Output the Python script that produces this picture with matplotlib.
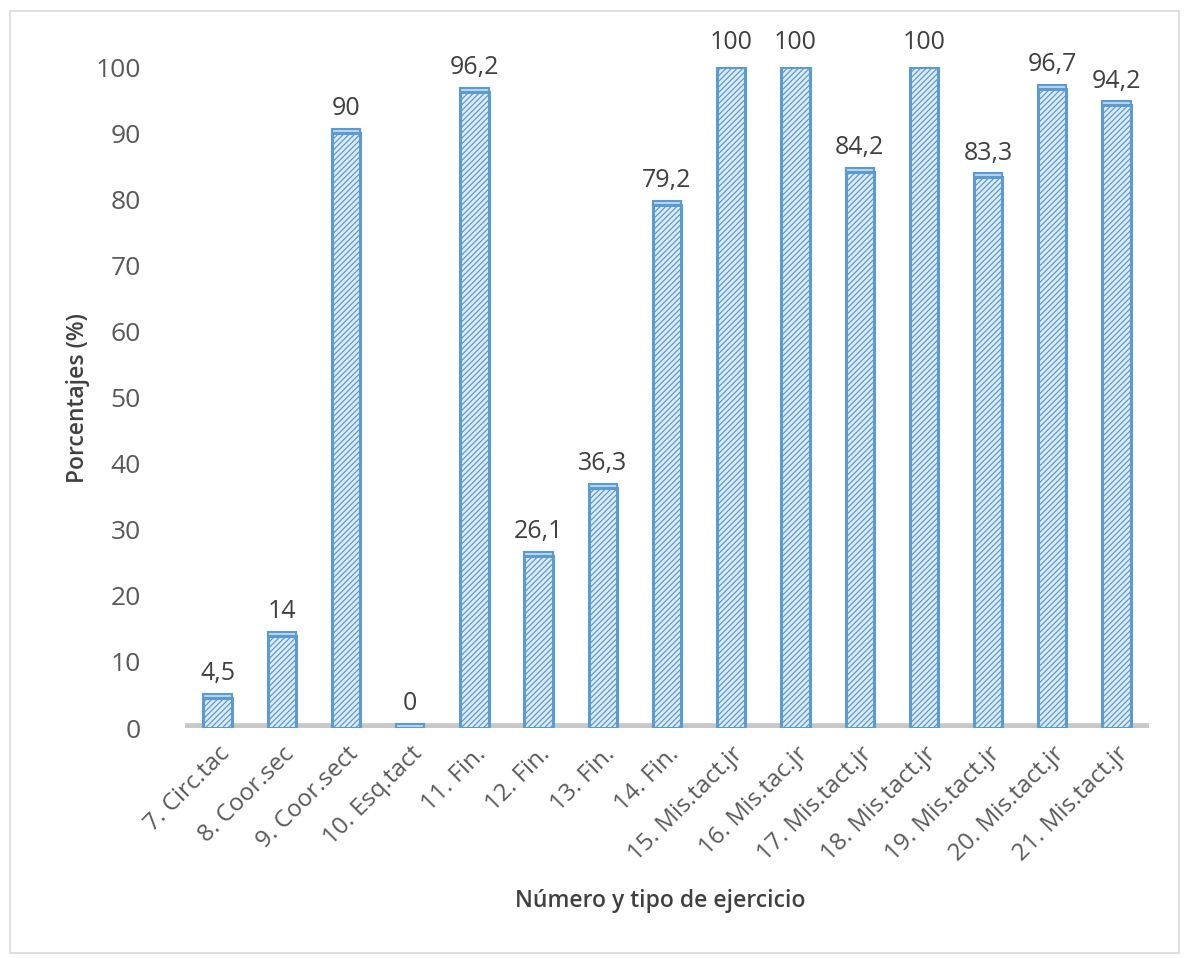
import matplotlib.pyplot as plt
from matplotlib.patches import Rectangle

plt.rcParams['font.family'] = ['Open Sans', 'DejaVu Sans']
plt.rcParams['hatch.linewidth'] = 0.9

# Ejercicios evaluados y porcentaje de logro
categorias = ["7. Circ.tac", "8. Coor.sec", "9. Coor.sect", "10. Esq.tact",
              "11. Fin.", "12. Fin.", "13. Fin.", "14. Fin.",
              "15. Mis.tact.jr", "16. Mis.tac.jr", "17. Mis.tact.jr",
              "18. Mis.tact.jr", "19. Mis.tact.jr", "20. Mis.tact.jr",
              "21. Mis.tact.jr"]
porcentajes = [4.5, 14, 90, 0, 96.2, 26.1, 36.3, 79.2,
               100, 100, 84.2, 100, 83.3, 96.7, 94.2]
etiquetas = ["4,5", "14", "90", "0", "96,2", "26,1", "36,3", "79,2",
             "100", "100", "84,2", "100", "83,3", "96,7", "94,2"]

fig = plt.figure(figsize=(11.89, 9.58), dpi=100)
ax = fig.add_axes([0.156, 0.240, 0.810, 0.690])

x = list(range(len(categorias)))

# suelo gris del grafico
ax.axhline(0, color="#c8c8c8", lw=7, zorder=1)

barras = ax.bar(x, porcentajes, width=0.44, color="#deebf7",
                edgecolor="#5b9bd5", hatch="//////", linewidth=2.2, zorder=2)

# tapa superior para dar volumen
ax.bar(x, [0.6] * len(x), bottom=porcentajes, width=0.44, color="#bdd7ee",
       edgecolor="#5b9bd5", linewidth=1.5, zorder=3)

for xi, v, t in zip(x, porcentajes, etiquetas):
    ax.text(xi, v + 1.8, t, ha="center", va="bottom", fontsize=18,
            color="#404040", zorder=4)

ax.set_xlim(-0.5, 14.5)
ax.set_ylim(0, 100)
ax.set_yticks(range(0, 101, 10))
ax.set_xticks(x)
ax.set_xticklabels(categorias, rotation=45, ha="right", rotation_mode="anchor",
                   fontsize=17.5, color="#595959")
ax.tick_params(axis="y", labelsize=19, labelcolor="#595959", length=0, pad=32)
ax.tick_params(axis="x", length=0, pad=10)
for s in ax.spines.values():
    s.set_visible(False)

ax.set_ylabel("Porcentajes (%)", fontsize=16.5, color="#404040",
              fontweight="semibold", labelpad=4)
fig.text(0.555, 0.053, "Número y tipo de ejercicio", ha="center",
         fontsize=16.5, color="#404040", fontweight="semibold")

# marco exterior
fig.patches.append(Rectangle((0.008, 0.005), 0.984, 0.983, transform=fig.transFigure,
                             fill=False, edgecolor="#d9d9d9", lw=1.2))

fig.savefig("out.png", dpi=100, facecolor="white")
